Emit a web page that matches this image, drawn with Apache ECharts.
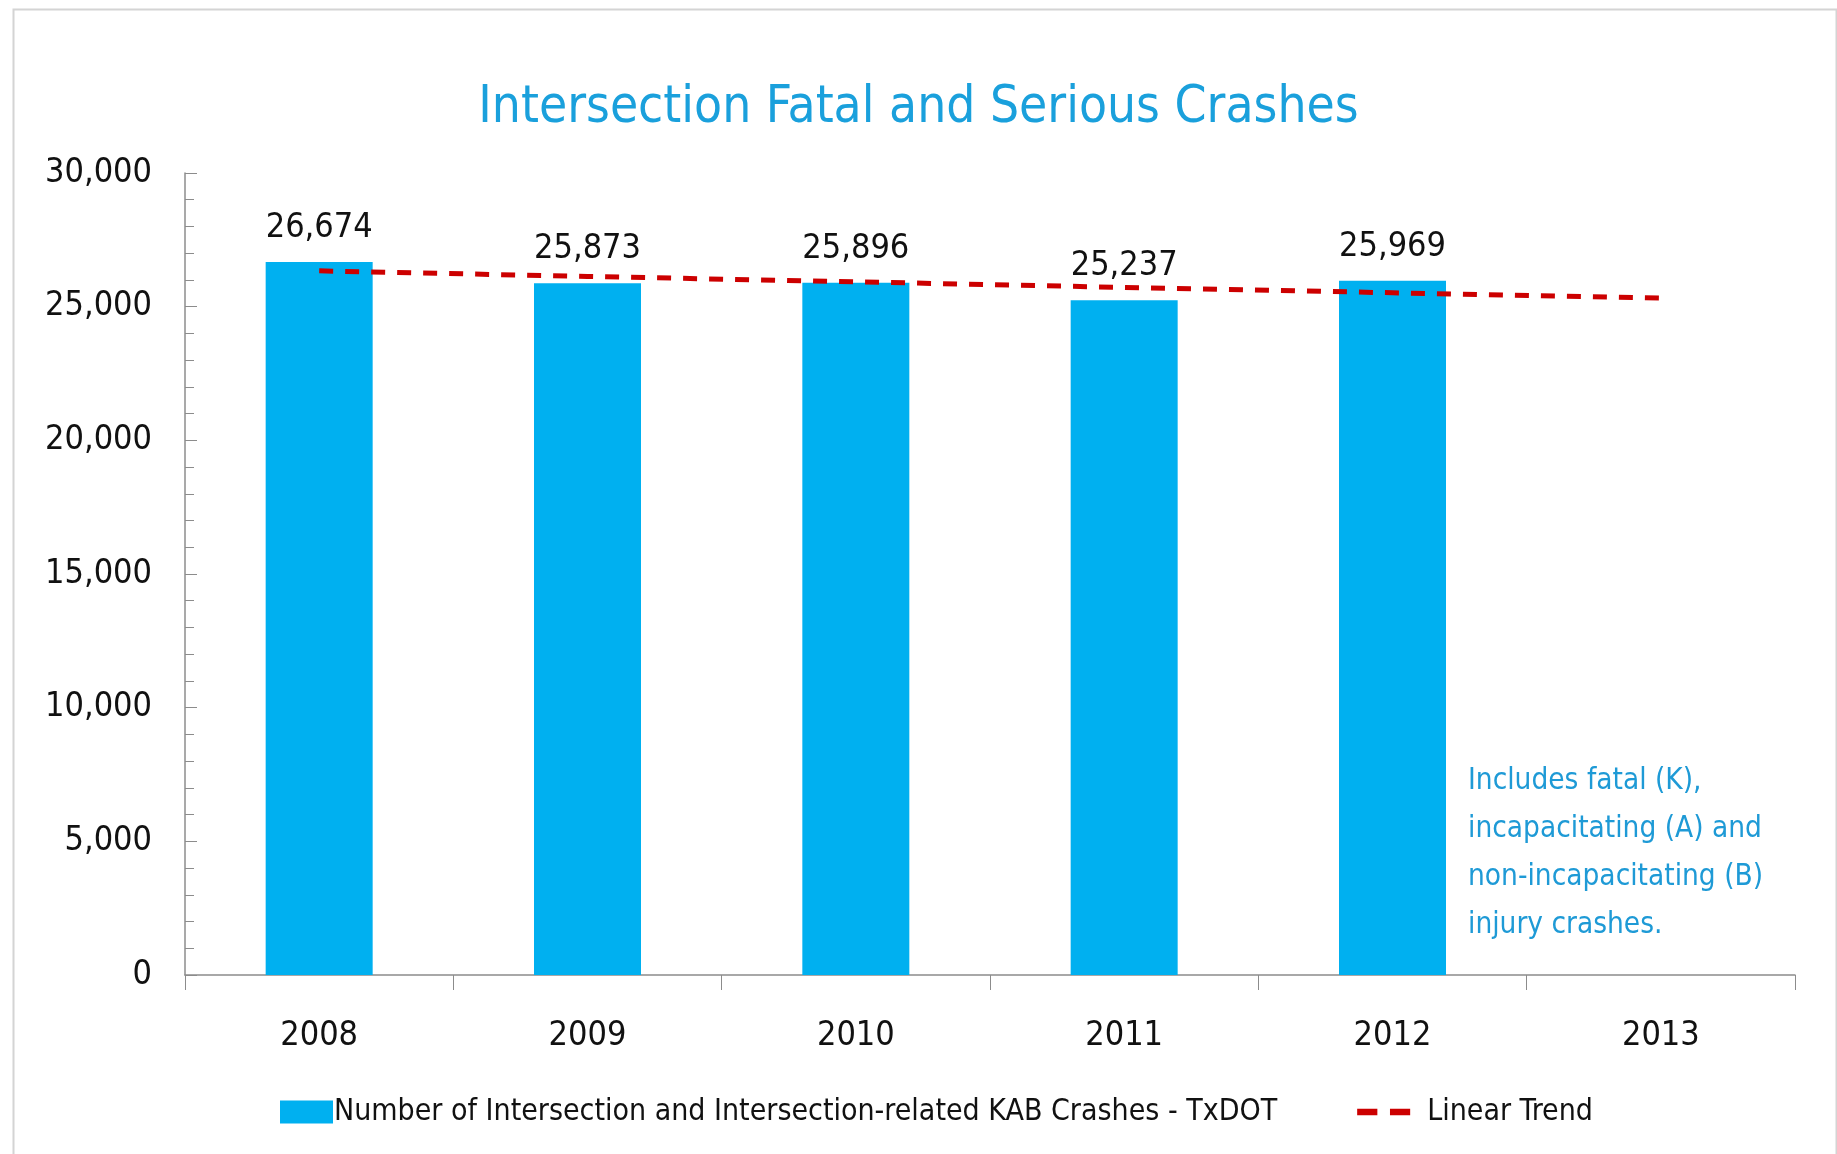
<!DOCTYPE html>
<html>
<head>
<meta charset="utf-8">
<script src="https://cdn.jsdelivr.net/npm/echarts@6/dist/echarts.min.js"></script>
<style>
  html, body { margin: 0; padding: 0; background: #fff; }
  #chart { width: 1837px; height: 1154px; }
</style>
</head>
<body>
<div id="chart"></div>
<script>
// values
const years = ['2008', '2009', '2010', '2011', '2012', '2013']
const crashes = [26674, 25873, 25896, 25237, 25969, '-']
const trend = [26340, 26130, 25930, 25720, 25520, 25320]
const yTicks = { min: 0, max: 30000, step: 5000 }

const barName = 'Number of Intersection and Intersection-related KAB Crashes - TxDOT'
const trendName = 'Linear Trend'
const note = 'Includes fatal (K),\nincapacitating (A) and\nnon-incapacitating (B)\ninjury crashes.'

const font = '"DejaVu Sans Condensed", sans-serif'
const axisGray = '#8c8c8c'

const chart = echarts.init(document.getElementById('chart'))

chart.setOption({
  backgroundColor: '#fff',
  textStyle: { fontFamily: font },
  title: {
    text: 'Intersection Fatal and Serious Crashes',
    left: 'center',
    top: 78,
    textStyle: { color: '#1aa0dc', fontSize: 51, fontWeight: 'normal', fontFamily: font },
  },
  grid: { left: 185, right: 42, top: 173, bottom: 179 },
  legend: {
    left: 275,
    top: 1092,
    itemWidth: 53,
    itemHeight: 23,
    itemGap: 80,
    textStyle: { color: '#111', fontSize: 30, fontFamily: font, padding: [0, 0, 0, -4] },
    data: [
      { name: barName, icon: 'rect' },
      {
        name: trendName,
        icon: 'path://M0,0H16V5H0Z M26,0H42V5H26Z',
        itemStyle: { color: '#cc0000' },
        textStyle: { padding: [0, 0, 0, 12] },
      },
    ],
  },
  xAxis: {
    type: 'category',
    data: years,
    axisLine: { lineStyle: { color: axisGray, width: 1.5 } },
    axisTick: { show: true, length: 15, lineStyle: { color: axisGray } },
    axisLabel: { color: '#111', fontSize: 34, margin: 44, fontFamily: font },
  },
  yAxis: {
    type: 'value',
    min: yTicks.min,
    max: yTicks.max,
    interval: yTicks.step,
    axisLine: { show: true, lineStyle: { color: axisGray, width: 1.5 } },
    axisTick: { show: true, inside: true, length: 12, lineStyle: { color: axisGray } },
    minorTick: { show: true, splitNumber: 5, length: 9, lineStyle: { color: axisGray } },
    splitLine: { show: false },
    axisLabel: {
      color: '#111',
      fontSize: 34,
      margin: 33,
      fontFamily: font,
      formatter: (v) => v.toLocaleString('en-US'),
    },
  },
  series: [
    {
      name: barName,
      type: 'bar',
      data: crashes,
      barWidth: 107,
      itemStyle: { color: '#00b0f0' },
      label: {
        show: true,
        position: 'top',
        distance: 17,
        color: '#111',
        fontSize: 34,
        fontFamily: font,
        formatter: (p) => p.value.toLocaleString('en-US'),
      },
      z: 2,
    },
    {
      name: trendName,
      type: 'line',
      data: trend,
      symbol: 'none',
      showSymbol: false,
      lineStyle: { color: '#cc0000', width: 5, type: [14, 12] },
      itemStyle: { color: '#cc0000' },
      z: 3,
    },
  ],
  graphic: [
    {
      type: 'rect',
      left: 11,
      top: 7,
      shape: { width: 1823, height: 1150 },
      style: { fill: 'none', stroke: '#d4d4d4', lineWidth: 2 },
      silent: true,
    },
    {
      type: 'text',
      left: 1468,
      top: 757,
      style: {
        text: note,
        fill: '#1e9ad6',
        fontSize: 29.5,
        lineHeight: 48,
        fontFamily: font,
      },
    },
  ],
})
</script>
</body>
</html>
